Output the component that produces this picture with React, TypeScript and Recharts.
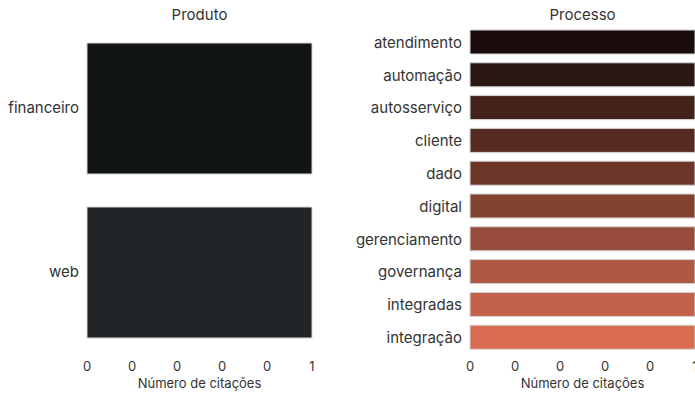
import React from "react";
import { BarChart, Bar, XAxis, YAxis, Cell } from "recharts";

const produtoCategorias = ["financeiro", "web"];
const produtoValores = [1, 1];
const produtoCores = ["#111516", "#212527"];

const processoCategorias = [
  "atendimento",
  "automação",
  "autosserviço",
  "cliente",
  "dado",
  "digital",
  "gerenciamento",
  "governança",
  "integradas",
  "integração",
];
const processoValores = [1, 1, 1, 1, 1, 1, 1, 1, 1, 1];
const processoCores = [
  "#1a0d0b",
  "#2c1812",
  "#42221b",
  "#552b22",
  "#6c3629",
  "#824331",
  "#984c3b",
  "#ad5943",
  "#c4614a",
  "#d96b50",
];

const xTicks = [0, 0.2, 0.4, 0.6, 0.8, 1];
const eixoLabel = "Número de citações";

const FONT = "Inter, 'Noto Sans', sans-serif";

function Painel({
  titulo,
  categorias,
  valores,
  cores,
  left,
  width,
  yWidth,
  barSize,
}: {
  titulo: string;
  categorias: string[];
  valores: number[];
  cores: string[];
  left: number;
  width: number;
  yWidth: number;
  barSize: number;
}) {
  const data = categorias.map((c, i) => ({ name: c, valor: valores[i] }));
  const plotLeft = yWidth;
  const plotRight = width - 35;
  return (
    <div style={{ position: "absolute", left, top: 0, width, height: 394 }}>
      <div
        style={{
          position: "absolute",
          top: 5,
          left: plotLeft,
          width: plotRight - plotLeft,
          textAlign: "center",
          fontFamily: FONT,
          fontSize: 15,
          color: "#333",
        }}
      >
        {titulo}
      </div>
      <BarChart
        width={width}
        height={394}
        data={data}
        layout="vertical"
        margin={{ top: 26, right: 35, left: 0, bottom: 0 }}
      >
        <XAxis
          type="number"
          domain={[0, 1]}
          ticks={xTicks}
          tickFormatter={(v: number) => String(Math.floor(v))}
          axisLine={false}
          tickLine={false}
          height={40}
          tick={{ fill: "#333", fontSize: 13, fontFamily: FONT }}
          label={{
            value: eixoLabel,
            position: "insideBottom",
            offset: 6,
            fill: "#333",
            fontSize: 13,
            fontFamily: FONT,
          }}
        />
        <YAxis
          type="category"
          dataKey="name"
          width={yWidth}
          axisLine={false}
          tickLine={false}
          tick={{ fill: "#333", fontSize: 15, fontFamily: FONT }}
        />
        <Bar
          dataKey="valor"
          barSize={barSize}
          stroke="#d4d4d4"
          strokeWidth={1}
          isAnimationActive={false}
        >
          {data.map((_, i) => (
            <Cell key={i} fill={cores[i % cores.length]} />
          ))}
        </Bar>
      </BarChart>
    </div>
  );
}

export default function App() {
  return (
    <div
      style={{
        position: "fixed",
        left: 0,
        top: 0,
        width: 695,
        height: 394,
        overflow: "hidden",
        background: "#fff",
      }}
    >
      <Painel
        titulo="Produto"
        categorias={produtoCategorias}
        valores={produtoValores}
        cores={produtoCores}
        left={0}
        width={347}
        yWidth={87}
        barSize={131}
      />
      <Painel
        titulo="Processo"
        categorias={processoCategorias}
        valores={processoValores}
        cores={processoCores}
        left={347}
        width={383}
        yWidth={123}
        barSize={24}
      />
    </div>
  );
}
